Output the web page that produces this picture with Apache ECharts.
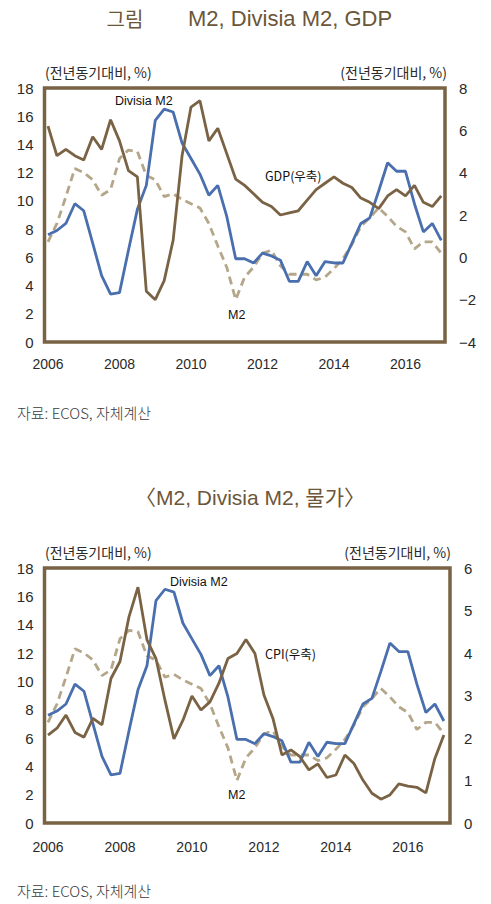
<!DOCTYPE html>
<html>
<head>
<meta charset="utf-8">
<script src="https://cdn.jsdelivr.net/npm/echarts@6/dist/echarts.min.js"></script>
<style>
html,body{margin:0;padding:0;background:#fff;}
#c{width:491px;height:904px;}
</style>
</head>
<body>
<div id="c"></div>
<script>
// quarterly, 2006Q1 .. 2017Q1
const startYear = 2006;
const nQuarters = 45;
const divisiaM2 = [7.6,7.9,8.4,9.8,9.3,7.0,4.7,3.4,3.5,6.5,9.4,11.1,15.7,16.5,16.3,14.1,13.0,11.9,10.4,11.1,8.9,5.9,5.9,5.6,6.3,6.1,5.8,4.3,4.3,5.7,4.7,5.7,5.6,5.6,7.0,8.4,8.8,10.7,12.7,12.1,12.1,9.8,7.8,8.4,7.2];
const m2 = [7.1,8.4,10.3,12.3,12.0,11.5,10.4,10.8,13.0,13.6,13.5,11.8,11.5,10.3,10.5,10.1,9.8,9.5,8.4,6.8,5.3,3.0,4.6,5.3,6.3,6.5,5.4,4.8,4.8,4.8,4.4,4.6,5.2,5.9,6.9,8.2,8.8,9.5,8.9,8.2,7.8,6.6,7.1,7.1,6.3];
const gdp = [6.2,4.8,5.1,4.8,4.6,5.7,5.1,6.5,5.5,4.1,3.8,-1.6,-2.0,-1.1,0.8,4.8,7.1,7.4,5.5,6.1,4.9,3.7,3.4,3.0,2.6,2.4,2.0,2.1,2.2,2.7,3.2,3.5,3.8,3.5,3.3,2.8,2.6,2.3,2.9,3.2,2.9,3.4,2.6,2.4,2.9];
const cpi = [2.07,2.23,2.54,2.13,2.02,2.46,2.31,3.40,3.80,4.85,5.55,4.31,3.87,2.89,1.98,2.42,2.99,2.66,2.85,3.29,3.87,3.99,4.32,3.99,3.01,2.46,1.60,1.72,1.56,1.25,1.39,1.07,1.13,1.60,1.40,1.01,0.70,0.56,0.66,0.92,0.87,0.84,0.71,1.52,2.07];
const xTickYears = [2006,2008,2010,2012,2014,2016];
const title1a = '그림';
const title1b = 'M2, Divisia M2, GDP';
const title2 = '〈M2, Divisia M2, 물가〉';
const axisTitle = '(전년동기대비, %)';
const sourceText = '자료: ECOS, 자체계산';

const xs = Array.from({length: nQuarters}, (_, i) => startYear + i / 4);
const pairs = arr => arr.map((v, i) => [xs[i], v]);

const FONT = '"Liberation Sans", Arial, "Noto Sans CJK KR", sans-serif';
const KFONT = '"Noto Sans CJK KR", "Liberation Sans", sans-serif';
const BROWN = '#7a6344';
const BLUE = '#4a6fae';
const TAN = '#b4a689';
const TITLE = '#6b5639';
const TXT = '#2a2a2a';

const chart = echarts.init(document.getElementById('c'), null, {renderer: 'svg'});

const gridStyle = {show: true, borderColor: BROWN, borderWidth: 3.5, backgroundColor: 'transparent', containLabel: false};
function xAxis(gi, min, max, margin) {
  return {type: 'value', gridIndex: gi, min: min, max: max,
    axisLine: {show: false}, axisTick: {show: false}, splitLine: {show: false},
    axisLabel: {customValues: xTickYears, margin: margin, color: TXT, fontSize: 14, fontFamily: FONT, formatter: v => String(v)}};
}
function yAxis(gi, pos, min, max, interval, margin) {
  return {type: 'value', gridIndex: gi, position: pos, min: min, max: max, interval: interval,
    axisLine: {show: false}, axisTick: {show: false}, splitLine: {show: false},
    axisLabel: {margin: margin, color: TXT, fontSize: 15, fontFamily: FONT,
      formatter: v => (v < 0 ? '\u2212' + Math.abs(v) : String(v))}};
}
function line(xi, yi, data, color, dashed) {
  return {type: 'line', xAxisIndex: xi, yAxisIndex: yi, data: pairs(data), symbol: 'none', smooth: false,
    lineStyle: {color: color, width: 2.8, type: dashed ? [8, 5] : 'solid'}, z: dashed ? 2 : 3};
}
function txt(x, y, text, size, color, align, font, weight) {
  return {type: 'text', x: x, y: y, style: {text: text, fontSize: size, fill: color, fontFamily: font || KFONT,
    fontWeight: weight || 'normal', textAlign: align || 'left', textVerticalAlign: 'middle'}};
}

chart.setOption({
  animation: false,
  grid: [
    Object.assign({left: 44.5, top: 88, width: 400.5, height: 254}, gridStyle),
    Object.assign({left: 44.5, top: 568, width: 405.5, height: 255}, gridStyle)
  ],
  xAxis: [
    xAxis(0, 2005.902, 2017.105, 15),
    xAxis(1, 2005.903, 2017.17, 17)
  ],
  yAxis: [
    yAxis(0, 'left', 0, 18, 2, 11),
    yAxis(0, 'right', -4, 8, 2, 14),
    yAxis(1, 'left', 0, 18, 2, 11),
    yAxis(1, 'right', 0, 6, 1, 14)
  ],
  series: [
    line(0, 0, m2, TAN, true),
    line(0, 0, divisiaM2, BLUE, false),
    line(0, 1, gdp, BROWN, false),
    line(1, 2, m2, TAN, true),
    line(1, 2, divisiaM2, BLUE, false),
    line(1, 3, cpi, BROWN, false)
  ],
  graphic: [
    txt(125, 18, title1a, 20, TITLE, 'center'),
    txt(188, 18, title1b, 22, TITLE, 'left', FONT),
    txt(45, 72, axisTitle, 14, TXT),
    txt(447, 72, axisTitle, 14, TXT, 'right'),
    txt(115, 101, 'Divisia M2', 12.5, '#111', 'left', FONT),
    txt(228, 315, 'M2', 12.5, '#111', 'left', FONT),
    txt(265, 175, 'GDP(우축)', 12.5, '#111', 'left'),
    txt(17, 412, sourceText, 15, '#3a3a3a', 'left', KFONT, 300),
    txt(250, 497, title2, 21, TITLE, 'center', FONT),
    txt(45, 552, axisTitle, 14, TXT),
    txt(451, 552, axisTitle, 14, TXT, 'right'),
    txt(170, 582, 'Divisia M2', 12.5, '#111', 'left', FONT),
    txt(228, 795, 'M2', 12.5, '#111', 'left', FONT),
    txt(265, 653, 'CPI(우축)', 12.5, '#111', 'left'),
    txt(17, 890, sourceText, 15, '#3a3a3a', 'left', KFONT, 300)
  ]
});
</script>
</body>
</html>
